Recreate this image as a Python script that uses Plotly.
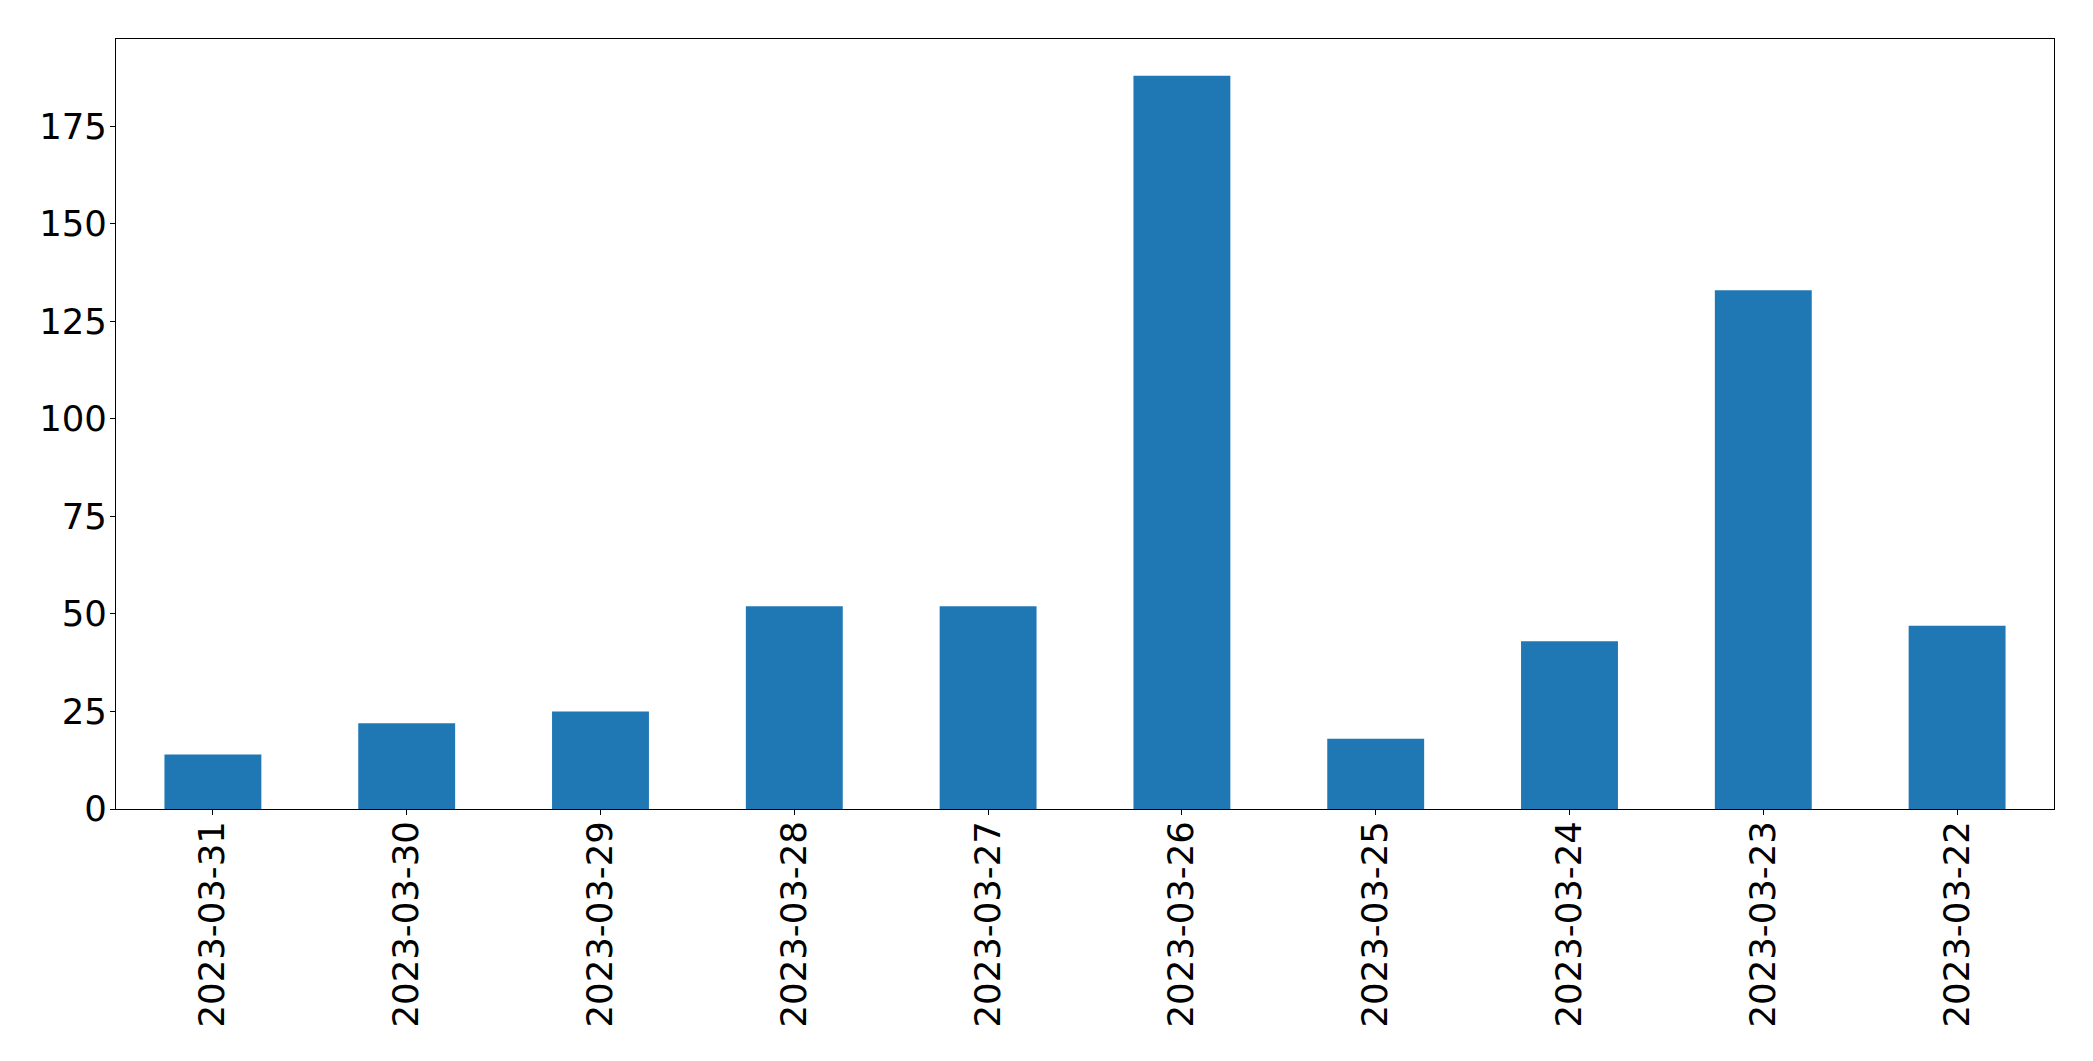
import plotly.graph_objects as go

dates = ["2023-03-31", "2023-03-30", "2023-03-29", "2023-03-28", "2023-03-27",
         "2023-03-26", "2023-03-25", "2023-03-24", "2023-03-23", "2023-03-22"]
counts = [14, 22, 25, 52, 52, 188, 18, 43, 133, 47]
y_ticks = [0, 25, 50, 75, 100, 125, 150, 175]

fig = go.Figure(go.Bar(
    x=list(range(len(dates))), y=counts, width=0.5,
    marker=dict(color="#1f77b4", line=dict(width=0)),
))

font = dict(family="DejaVu Sans", size=35.5, color="black")
fig.update_layout(
    width=2093, height=1061,
    margin=dict(l=108, r=47, t=31, b=260, pad=0),
    paper_bgcolor="white", plot_bgcolor="white",
    showlegend=False, font=font,
)
fig.update_xaxes(
    range=[-0.5, len(dates) - 0.5],
    tickmode="array", tickvals=list(range(len(dates))), ticktext=dates,
    tickangle=-90, ticks="outside", ticklen=5, tickwidth=1, tickcolor="black",
    ticklabelstandoff=-8,
    showline=True, linecolor="black", linewidth=1, mirror=True,
    showgrid=False, zeroline=False, tickfont=font,
)
fig.update_yaxes(
    range=[0, max(counts) * 1.05],
    tickmode="array", tickvals=y_ticks,
    ticks="outside", ticklen=5, tickwidth=1, tickcolor="black",
    ticklabelstandoff=-4,
    showline=True, linecolor="black", linewidth=1, mirror=True,
    showgrid=False, zeroline=False, tickfont=font,
)

fig.write_html("out.html")
